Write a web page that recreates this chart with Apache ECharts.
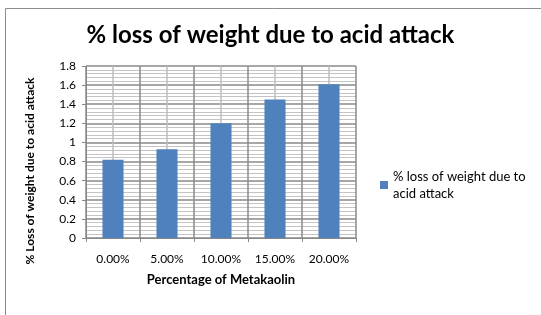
<!DOCTYPE html>
<html>
<head>
<meta charset="UTF-8">
<script src="https://cdn.jsdelivr.net/npm/echarts@6/dist/echarts.min.js"></script>
<style>
  html, body { margin: 0; padding: 0; background: #fff; }
  #chart { width: 541px; height: 315px; }
</style>
</head>
<body>
<div id="chart"></div>
<script>
  // data
  const categories = ['0.00%', '5.00%', '10.00%', '15.00%', '20.00%'];
  const lossValues = [0.82, 0.93, 1.20, 1.45, 1.61];
  const seriesName = '% loss of weight due to acid attack';
  const yAxisTitle = '% Loss of weight due to acid attack';

  const font = 'Lato, "Open Sans", sans-serif';
  const chart = echarts.init(document.getElementById('chart'));

  chart.setOption({
    animation: false,
    title: {
      text: '% loss of weight due to acid attack',
      left: 'center',
      top: 18,
      textStyle: { fontFamily: font, fontSize: 24, fontWeight: 'bold', color: '#000' }
    },
    legend: {
      left: 375,
      top: 163,
      orient: 'vertical',
      itemWidth: 8,
      itemHeight: 8,
      itemGap: 4,
      icon: 'rect',
      formatter: () => '% loss of weight due to\nacid attack',
      textStyle: { fontFamily: font, fontSize: 13, color: '#000', lineHeight: 17 },
      data: [seriesName]
    },
    graphic: [{
      type: 'rect',
      shape: { x: 5.5, y: 8.5, width: 560, height: 330 },
      style: { fill: 'none', stroke: '#8c8c8c', lineWidth: 1 },
      silent: true
    }, {
      // rotated y axis title, placed like in the picture
      type: 'text',
      x: 30,
      y: 171,
      rotation: Math.PI / 2,
      style: {
        text: yAxisTitle,
        fontFamily: font, fontSize: 12, fontWeight: 'bold', fill: '#000',
        align: 'center', verticalAlign: 'middle'
      },
      silent: true
    }],
    grid: { left: 86, right: 185, top: 66, bottom: 77 },
    xAxis: [{
      type: 'category',
      data: categories,
      name: 'Percentage of Metakaolin',
      nameLocation: 'middle',
      nameGap: 35,
      nameTextStyle: { fontFamily: font, fontSize: 13, fontWeight: 'bold', color: '#000' },
      axisLine: { lineStyle: { color: '#888' } },
      axisTick: { show: true, length: 4, lineStyle: { color: '#888' } },
      axisLabel: { fontFamily: font, fontSize: 12, color: '#000', margin: 15 },
      splitLine: { show: false }
    }, {
      type: 'value',
      min: 0,
      max: 5,
      interval: 1,
      position: 'top',
      axisLine: { show: false },
      axisTick: { show: false },
      axisLabel: { show: false },
      splitLine: { show: true, lineStyle: { color: '#8a8a8a', width: 1.5 } },
      minorTick: { show: false, splitNumber: 2 },
      minorSplitLine: { show: true, lineStyle: { color: '#bdbdbd', width: 1.5 } }
    }],
    yAxis: {
      type: 'value',
      min: 0,
      max: 1.8,
      interval: 0.2,
      axisLine: { show: true, lineStyle: { color: '#888' } },
      axisTick: { show: true, length: 4, lineStyle: { color: '#888' } },
      axisLabel: {
        fontFamily: font, fontSize: 12, color: '#000', margin: 10,
        formatter: v => String(Math.round(v * 10) / 10)
      },
      splitLine: { show: true, lineStyle: { color: '#8a8a8a', width: 1.5 } },
      minorTick: { show: false, splitNumber: 5 },
      minorSplitLine: { show: true, lineStyle: { color: '#c4c4c4', width: 1 } }
    },
    series: [{
      name: seriesName,
      type: 'bar',
      data: lossValues,
      barWidth: '39%',
      itemStyle: { color: '#4f81bd' },
      z: 3
    }]
  });
</script>
</body>
</html>
